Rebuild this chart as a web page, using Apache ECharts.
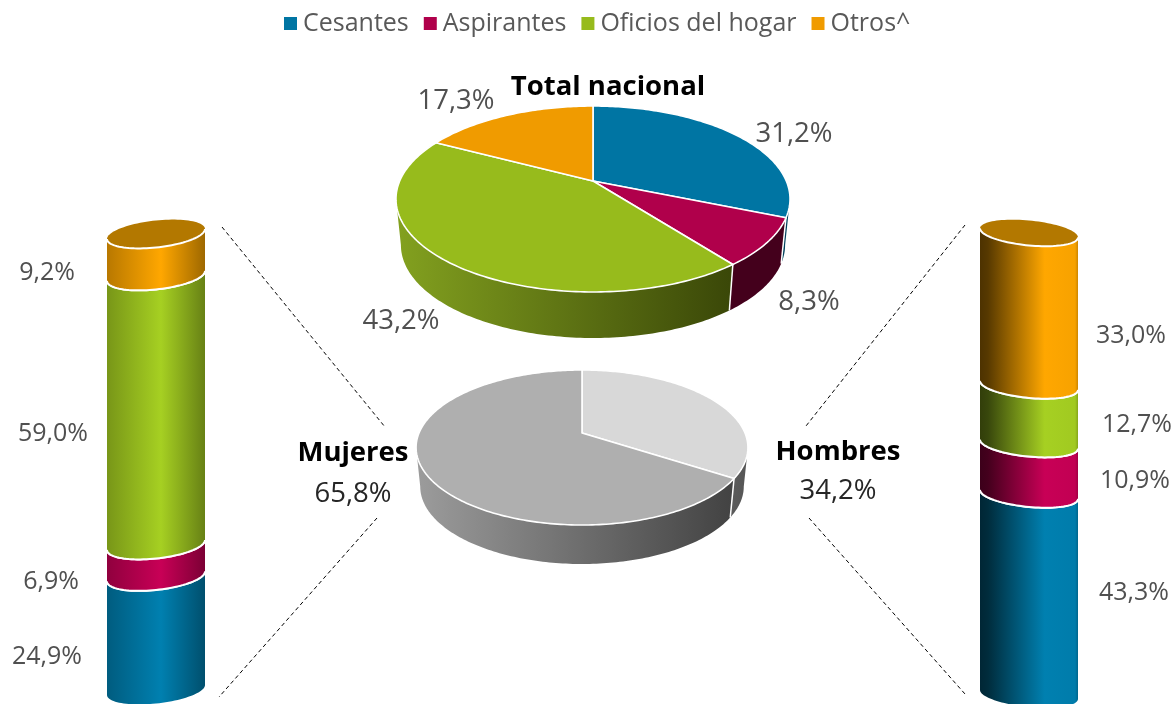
<!DOCTYPE html>
<html>
<head>
<meta charset="utf-8">
<style>html,body{margin:0;padding:0;background:#fff}#main{width:1173px;height:704px}</style>
<script src="https://cdn.jsdelivr.net/npm/echarts@6/dist/echarts.min.js"></script>
</head>
<body>
<div id="main"></div>
<script>
// chart values
const categories = ['Cesantes', 'Aspirantes', 'Oficios del hogar', 'Otros^'];
const totalNacional = [31.2, 8.3, 43.2, 17.3];
const mujeres = [24.9, 6.9, 59.0, 9.2];
const hombres = [43.3, 10.9, 12.7, 33.0];
const sexNames = ['Hombres', 'Mujeres'];
const sexShare = [34.2, 65.8];

// colours
const flatColors = ['#0075A3', '#B0004B', '#97BB1C', '#F09B00'];
const brightColors = ['#0080B0', '#C80056', '#A6D022', '#FFA700'];
const wallTotal = [['#00425c', '#00425c'], ['#44001c', '#44001c'], ['#83a11f', '#3a4708'], ['#8a5900', '#8a5900']];
const sexFlat = ['#D8D8D8', '#AFAFAF'];
const wallSex = [['#5c5c5c', '#555555'], ['#9c9c9c', '#424242']];
const capColor = '#B37800';
const labelColor = '#505050';
const fontFamily = '"Open Sans", "Noto Sans", sans-serif';

function shade(hex, f) {
  const n = parseInt(hex.slice(1), 16);
  const c = [n >> 16, (n >> 8) & 255, n & 255].map(v => Math.round(v * f));
  return 'rgb(' + c.join(',') + ')';
}
function pct(v) {
  return v.toFixed(1).replace('.', ',') + '%';
}
function hGrad(stops) {
  return new echarts.graphic.LinearGradient(0, 0, 1, 0, stops.map(s => ({offset: s[0], color: s[1]})));
}

// pie disc seen in perspective: the far side is squeezed, so the apex sits above the ellipse centre
function rimPoint(p, deg, drop, squeeze) {
  const t = deg * Math.PI / 180;
  const u = Math.sin(t), v = Math.cos(t), w = 1 + p.k * v;
  return [p.cx + squeeze * p.r * u / w, p.cy - p.h * v / w + drop];
}
function arcPoints(p, from, to, drop, squeeze) {
  const pts = [];
  const n = Math.max(2, Math.ceil(to - from));
  for (let i = 0; i <= n; i++) pts.push(rimPoint(p, from + (to - from) * i / n, drop, squeeze));
  return pts;
}
function sliceRows(values) {
  let sum = 0;
  const total = values.reduce((a, b) => a + b, 0);
  return values.map(function (v, i) {
    const row = [sum / total * 360, (sum + v) / total * 360, i];
    sum += v;
    return row;
  });
}
function pieWalls(p, walls) {
  const front = Math.acos(-p.k) * 180 / Math.PI;
  const from = front, to = 360 - front;
  return {
    type: 'custom', coordinateSystem: 'none', silent: true, z: 2, clip: false,
    data: sliceRows(p.values),
    renderItem: function (params, api) {
      const a = Math.max(api.value(0), from), b = Math.min(api.value(1), to);
      const i = api.value(2);
      if (b <= a) return {type: 'group', children: []};
      const top = arcPoints(p, a, b, 0, 1);
      const bottom = arcPoints(p, a, b, p.depth, p.squeeze).reverse();
      const children = [{
        type: 'polygon', shape: {points: top.concat(bottom)},
        style: {fill: hGrad([[0, walls[i][0]], [1, walls[i][1]]])}
      }];
      if (a > from) {
        children.push({
          type: 'line',
          shape: {x1: top[0][0], y1: top[0][1], x2: bottom[bottom.length - 1][0], y2: bottom[bottom.length - 1][1]},
          style: {stroke: '#fff', lineWidth: 1.5}
        });
      }
      return {type: 'group', children: children};
    }
  };
}
function pieTops(p, colors) {
  return {
    type: 'custom', coordinateSystem: 'none', silent: true, z: 3, clip: false,
    data: sliceRows(p.values),
    renderItem: function (params, api) {
      const pts = arcPoints(p, api.value(0), api.value(1), 0, 1);
      pts.unshift([p.cx, p.cy]);
      return {
        type: 'polygon', shape: {points: pts},
        style: {fill: colors[api.value(2)], stroke: '#fff', lineWidth: 1.6, lineJoin: 'round'}
      };
    }
  };
}

// front half of a tilted ring round the cylinder, left to right
function ringFront(cx, edgeY, a, b, tilt) {
  const pts = [];
  const cy = edgeY + tilt;
  for (let i = 0; i <= 48; i++) {
    const t = Math.PI - Math.PI * i / 48;
    pts.push([cx + a * Math.cos(t), cy + b * Math.sin(t) + tilt * Math.cos(t)]);
  }
  return pts;
}
function ringBack(cx, edgeY, a, b, tilt) {
  return ringFront(cx, edgeY, a, -b, tilt);
}
function cylinderSeries(values, gridIndex, tilt, b, stops) {
  let sum = 0;
  return values.map(function (v, i) {
    const row = [0, sum, sum + v];
    sum += v;
    return {
      name: categories[i], type: 'custom', xAxisIndex: gridIndex, yAxisIndex: gridIndex,
      silent: true, z: 4, clip: false,
      itemStyle: {color: flatColors[i]},
      data: [row],
      renderItem: function (params, api) {
        const cx = api.coord([0, 0])[0];
        const a = api.size([1, 0])[0] / 2;
        const low = api.coord([0, api.value(1)])[1];
        const high = api.coord([0, api.value(2)])[1];
        const upper = ringFront(cx, high, a, b, tilt);
        const lower = ringFront(cx, low, a, b, tilt);
        const fill = hGrad(stops.map(s => [s[0], shade(brightColors[i], s[1])]));
        const children = [{
          type: 'polygon', shape: {points: upper.concat(lower.slice().reverse())}, style: {fill: fill}
        }];
        if (i > 0) children.push({type: 'polyline', shape: {points: lower}, style: {stroke: '#fff', lineWidth: 2, fill: null}});
        if (i === categories.length - 1) {
          const back = ringBack(cx, high, a, b, tilt).reverse();
          children.push({type: 'polygon', shape: {points: upper.concat(back)}, style: {fill: capColor}});
        }
        children.push({type: 'polyline', shape: {points: upper}, style: {stroke: '#fff', lineWidth: 2, fill: null}});
        return {type: 'group', children: children};
      }
    };
  });
}

const piePct = {cx: 593, cy: 181, r: 193.3, h: 89.5, k: 0.1935, depth: 46, squeeze: 0.975, values: totalNacional};
const pieSex = {cx: 582, cy: 433, r: 163, h: 74.8, k: 0.187, depth: 39, squeeze: 0.975, values: sexShare};

const leftStops = [[0, 0.72], [0.55, 1], [1, 0.62]];
const rightStops = [[0, 0.3], [0.08, 0.34], [0.66, 1], [0.97, 0.97], [1, 0.8]];

function text(str, x, y, size, bold, color) {
  return {
    type: 'text', silent: true, z: 10,
    style: {
      text: str, x: x, y: y, fill: color, textAlign: 'center', textVerticalAlign: 'middle',
      font: (bold ? 'bold ' : '') + size + 'px ' + fontFamily
    }
  };
}
function dash(x1, y1, x2, y2) {
  return {
    type: 'line', silent: true, z: 1,
    shape: {x1: x1, y1: y1, x2: x2, y2: y2},
    style: {stroke: '#000', lineWidth: 1, lineDash: [4, 3]}
  };
}

const numSize = 27.5;
const sideSize = 25;
const headSize = 27.5;
const graphics = [
  dash(222, 227, 385, 427), dash(377, 518, 219, 697),
  dash(965, 225, 806, 426), dash(809, 518, 965, 694),
  text('Total nacional', 608, 87, headSize, true, '#000'),
  text(sexNames[1], 353, 453, headSize, true, '#000'),
  text(sexNames[0], 838, 452, headSize, true, '#000'),
  text(pct(sexShare[1]), 353, 494, numSize, false, '#262626'),
  text(pct(sexShare[0]), 838, 491, numSize, false, '#262626'),
  text(pct(totalNacional[0]), 794, 134, numSize, false, labelColor),
  text(pct(totalNacional[1]), 809, 302, numSize, false, labelColor),
  text(pct(totalNacional[2]), 401, 321, numSize, false, labelColor),
  text(pct(totalNacional[3]), 456, 101, numSize, false, labelColor),
  text(pct(mujeres[0]), 47, 657, sideSize, false, labelColor),
  text(pct(mujeres[1]), 51, 582, sideSize, false, labelColor),
  text(pct(mujeres[2]), 53, 434, sideSize, false, labelColor),
  text(pct(mujeres[3]), 47, 273, sideSize, false, labelColor),
  text(pct(hombres[0]), 1134, 593, sideSize, false, labelColor),
  text(pct(hombres[1]), 1135, 481, sideSize, false, labelColor),
  text(pct(hombres[2]), 1137, 425, sideSize, false, labelColor),
  text(pct(hombres[3]), 1131, 336, sideSize, false, labelColor)
];

const chart = echarts.init(document.getElementById('main'), null, {renderer: 'canvas'});
chart.setOption({
  animation: false,
  backgroundColor: '#fff',
  legend: {
    data: categories, left: 279, top: 6, icon: 'rect', itemWidth: 13, itemHeight: 13, itemGap: 15,
    selectedMode: false,
    textStyle: {color: '#595959', fontSize: 25, fontFamily: fontFamily, padding: [0, 0, 0, 1]}
  },
  grid: [
    {left: 107, width: 98, top: 239, height: 456},
    {left: 980, width: 98, top: 228, height: 462}
  ],
  xAxis: [
    {type: 'category', gridIndex: 0, data: ['Mujeres'], show: false},
    {type: 'category', gridIndex: 1, data: ['Hombres'], show: false}
  ],
  yAxis: [
    {type: 'value', gridIndex: 0, min: 0, max: 100, show: false},
    {type: 'value', gridIndex: 1, min: 0, max: 100, show: false}
  ],
  graphic: graphics,
  series: [
    pieWalls(piePct, wallTotal), pieTops(piePct, flatColors),
    pieWalls(pieSex, wallSex), pieTops(pieSex, sexFlat)
  ].concat(
    cylinderSeries(mujeres, 0, -5, 13.5, leftStops),
    cylinderSeries(hombres, 1, 4.5, 12.5, rightStops)
  )
});
</script>
</body>
</html>
